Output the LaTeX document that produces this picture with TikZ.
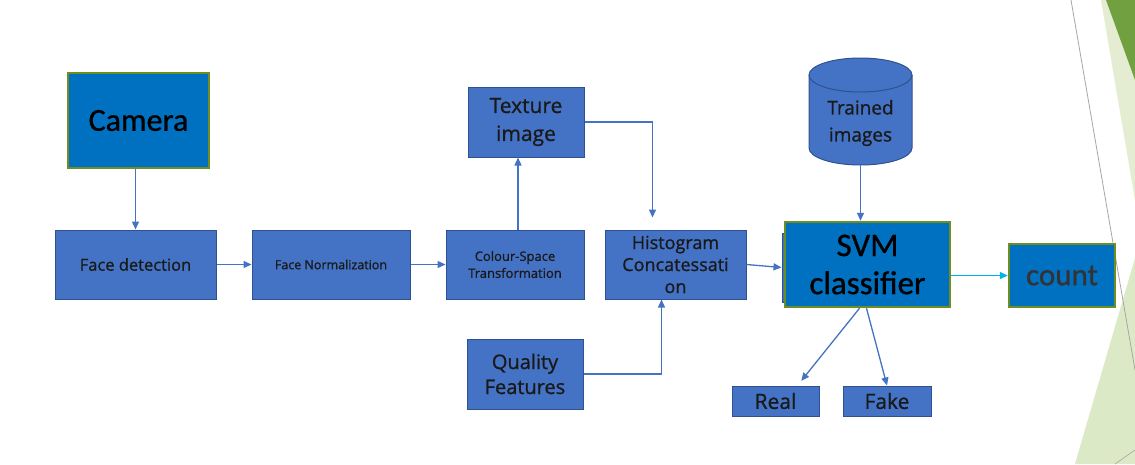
\documentclass[tikz,border=0pt]{standalone}
\usepackage{fontspec}
\setmainfont{Open Sans}[FakeBold=0.9]
\newfontfamily\calib{Carlito}[FakeBold=0.9]
\usepackage{xcolor}
\usepackage{tikz}
\usetikzlibrary{shapes,arrows.meta}
\definecolor{boxblue}{HTML}{4472C4}
\definecolor{boxedge}{HTML}{2F528F}
\definecolor{deepblue}{HTML}{0070C0}
\definecolor{edgegreen}{HTML}{6E8E24}
\definecolor{skyblue}{HTML}{00B0F0}
\definecolor{leafdark}{HTML}{70A040}
\definecolor{leaflight}{HTML}{E4EDD2}
\definecolor{leafpale}{HTML}{DCE9C6}
\def\fs#1#2{\fontsize{#1}{#2}\selectfont}
\tikzstyle{block}=[draw=boxedge,fill=boxblue,line width=1pt,align=center,inner sep=0pt,text=black!90]
\tikzstyle{main}=[draw=edgegreen,fill=deepblue,line width=2.5pt,align=center,inner sep=0pt,font=\calib]
\tikzstyle{link}=[draw=boxblue,line width=1.3pt,-{Triangle[length=8pt,width=7pt]}]
\tikzstyle{lid}=[x radius=51.5pt,y radius=17pt]

\begin{document}
\begin{tikzpicture}[x=1pt,y=-1pt]
    \fill[white] (0,0) rectangle (1135,464);
    \useasboundingbox (0,0) rectangle (1135,464);
    \fill[leaflight] (1101,0) -- (1135,0) -- (1135,200) -- cycle;
    \fill[leafdark] (1106,0) -- (1135,0) -- (1135,80) -- cycle;
    \fill[leafpale] (1075,464) -- (1135,258) -- (1135,464) -- cycle;
    \draw[black!35,line width=0.8pt] (1071,0) -- (1135,370);
    \draw[black!35,line width=0.6pt] (1115,464) -- (1135,450);

    \node[main,minimum width=141,minimum height=95,font=\calib\fs{32}{36}] (camera) at (138.5,120.5) {Camera};
    \node[block,minimum width=161,minimum height=69,font=\fs{16.5}{20}] (facedet) at (135.5,264.5) {Face detection};
    \node[block,minimum width=158,minimum height=69,font=\fs{12.5}{15}] (facenorm) at (331,264.5) {Face Normalization};
    \node[block,minimum width=138,minimum height=69,font=\fs{13}{17}] (colour) at (515,264.5) {Colour-Space\\Transformation};
    \node[block,minimum width=116,minimum height=70,font=\fs{21}{28}] (texture) at (526,122) {Texture\\image};
    \node[block,minimum width=141,minimum height=69,font=\fs{18}{22}] (hist) at (675.5,264.5) {Histogram\\Concatessati\\on};
    \node[block,minimum width=116,minimum height=70,font=\fs{20}{25}] (quality) at (525,374) {Quality\\Features};
    \path[draw=boxedge,fill=boxblue,line width=1pt] (809,75) -- (809,148) arc[start angle=180,end angle=360,lid]
        -- (912,75) arc[start angle=0,end angle=180,lid] -- cycle;
    \draw[boxedge,line width=1pt] (809,75) arc[start angle=180,end angle=360,lid];
    \node[align=center,inner sep=0pt,text=black!90,minimum width=103,minimum height=84,font=\fs{19}{27}] (trained) at (860.5,123) {Trained\\images};
    \node[block,minimum width=78,minimum height=69] (svmback) at (821,267.5) {};
    \node[main,minimum width=165,minimum height=85,font=\calib\fs{33}{38}] (svm) at (867.5,264.5) {SVM\\classifier};
    \node[main,minimum width=106,minimum height=63,font=\calib\fs{31}{36},text=black!80] (count) at (1062,275.5) {count};
    \node[block,minimum width=87,minimum height=30,font=\fs{21}{24}] (real) at (775.5,401) {Real};
    \node[block,minimum width=88,minimum height=30,font=\fs{21}{24}] (fake) at (887,401) {Fake};

    \draw[link] (facedet.north |- camera.south) -- (facedet.north);
    \draw[link] (facedet) -- (facenorm);
    \draw[link] (facenorm) -- (colour);
    \draw[link] ([xshift=3pt]colour.north) -- ([xshift=3pt]colour.north |- texture.south);
    \draw[link,shorten >=12pt] (texture.east) -| ([xshift=-23pt]hist.north);
    \draw[link] (quality.east) -| ([xshift=-14pt]hist.south);
    \draw[link] (hist.east) -- (svmback.west);
    \draw[link] (trained.south) -- (trained.south |- svm.north);
    \draw[link,draw=skyblue] (svm.east |- count.west) -- (count.west);
    \draw[link,shorten >=6pt] ([xshift=-8pt]svm.south) -- ([xshift=22pt]real.north);
    \draw[link] ([xshift=-1pt]svm.south) -- (fake.north);
\end{tikzpicture}
\end{document}
